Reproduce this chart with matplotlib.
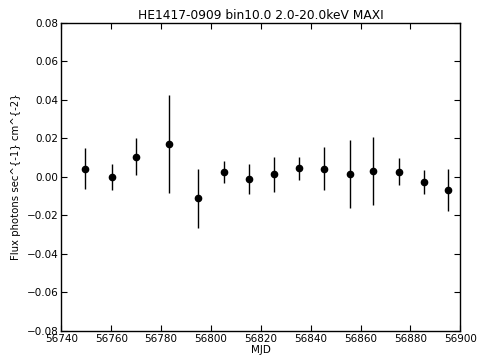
import matplotlib
matplotlib.use("Agg")
import matplotlib.pyplot as plt

# light curve values
mjd = [56749.4, 56760.5, 56770.0, 56783.1, 56794.8, 56805.2, 56815.2, 56825.3,
       56835.3, 56845.2, 56855.6, 56865.1, 56875.3, 56885.3, 56895.2]
flux = [0.0044, 0.0000, 0.0106, 0.0170, -0.0111, 0.0027, -0.0012, 0.0014,
        0.0045, 0.0044, 0.0016, 0.0030, 0.0028, -0.0027, -0.0067]
flux_err = [0.0104, 0.0067, 0.0095, 0.0255, 0.0155, 0.0058, 0.0077, 0.0090,
            0.0061, 0.0112, 0.0178, 0.0178, 0.0072, 0.0062, 0.0108]

fig = plt.figure(figsize=(4.79, 3.59), dpi=100)
ax = fig.add_axes([0.128, 0.078, 0.833, 0.858])

ax.errorbar(mjd, flux, yerr=flux_err, fmt='ko', ms=4.5, ecolor='k',
            elinewidth=1.0, capsize=0)

ax.set_xlim(56740, 56900)
ax.set_ylim(-0.08, 0.08)
ax.set_xticks(range(56740, 56901, 20))
ax.set_yticks([-0.08, -0.06, -0.04, -0.02, 0.0, 0.02, 0.04, 0.06, 0.08])
ax.set_yticklabels(['\u22120.08', '\u22120.06', '\u22120.04', '\u22120.02', '0.00',
                    '0.02', '0.04', '0.06', '0.08'])
ax.tick_params(direction='in', top=True, right=True, labelsize=7.5, length=4, pad=2)
for s in ax.spines.values():
    s.set_linewidth(1.0)

ax.set_title("HE1417-0909 bin10.0 2.0-20.0keV MAXI", fontsize=8.8, pad=3)
ax.set_xlabel("MJD", fontsize=7.5, labelpad=1)
ax.set_ylabel("Flux photons sec^{-1} cm^{-2}", fontsize=7.3, labelpad=4)

fig.savefig("out.png", dpi=100)
